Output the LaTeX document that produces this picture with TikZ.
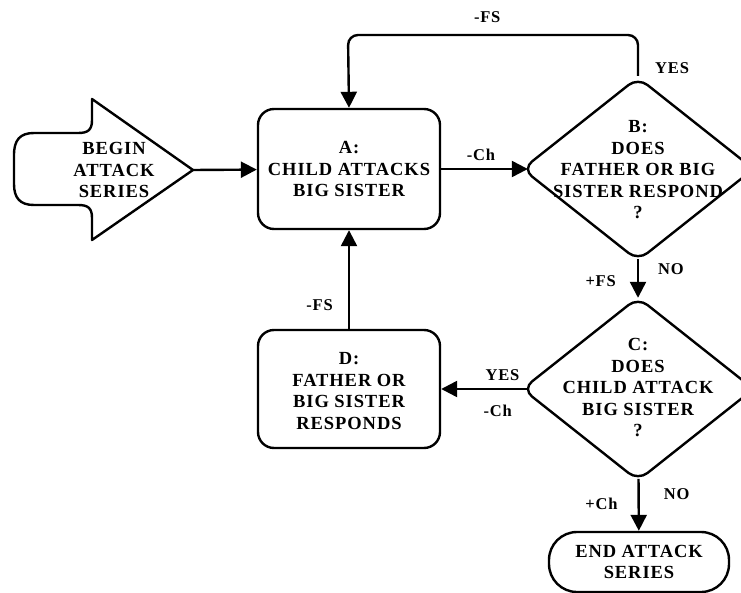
\documentclass[tikz,border=0pt]{standalone}
\usepackage{fontspec}
\usepackage{tikz}
\usetikzlibrary{positioning}
\usetikzlibrary{arrows.meta}
\usetikzlibrary{shapes.geometric}
\newfontfamily\flowfont{Liberation Serif}[LetterSpace=5]
\tikzset {
  x=1pt, y=-1pt,
  % text inside the boxes
  txt/.style={font=\flowfont\bfseries\fontsize{18.5}{21.5}\selectfont, align=center, inner sep=0pt},
  % labels next to the arrows
  lbl/.style={font=\flowfont\bfseries\fontsize{16.5}{18}\selectfont, inner sep=0pt},
  % process boxes
  proc/.style={draw, line width=2.4pt, rounded corners=16pt, minimum width=182pt, minimum height=120pt},
  % questions
  decision/.style={draw, diamond, line width=2.4pt, rounded corners=12pt, inner sep=0pt,
                   minimum width=232pt, minimum height=184pt},
  % start and end
  term/.style={draw, line width=2.4pt, rounded corners=28pt, minimum width=180pt, minimum height=60pt},
  flow/.style={-{Triangle[length=16pt, width=16pt]}, line width=2.4pt},
}

\begin{document}
\begin{tikzpicture}
        \useasboundingbox (0,0) rectangle (741,593);

        % start shape
        \draw[line width=2.4pt, line join=round] (92,99) -- (92,120)
            .. controls (92,130) and (88,133) .. (78,133) -- (34,133)
            .. controls (20,133) and (14,140) .. (14,155) -- (14,184)
            .. controls (14,198) and (20,205) .. (34,205) -- (78,205)
            .. controls (88,205) and (92,208) .. (92,218) -- (92,240)
            -- (193,170) -- cycle;
        \node[txt] (begin) at (114,170) {BEGIN\\ATTACK\\SERIES};
        \coordinate (begintip) at (193,170);

        \node[proc] (A) at (349,169) {};
        \node[txt] (Atext) at (A) {A:\\CHILD ATTACKS\\BIG SISTER};

        \node[proc, minimum height=118pt] (D) at (349,389) {};
        \node[txt] (Dtext) at (349,391) {D:\\FATHER OR\\BIG SISTER\\RESPONDS};

        \node[decision] (B) at (638,169) {};
        \node[txt] (Btext) at (638,170) {B:\\DOES\\FATHER OR BIG\\SISTER RESPOND\\?};

        \node[decision] (C) at (638,389) {};
        \node[txt] (Ctext) at (638,388) {C:\\DOES\\CHILD ATTACK\\BIG SISTER\\?};

        \node[term, txt] (E) at (639,562) {END ATTACK\\SERIES};

        \coordinate (loopR) at (638,35);
        \coordinate (loopL) at (348,35);

        \draw [flow] (begintip) to (A);

        \draw [flow, shorten >=-7pt] (A) to node[lbl, above=7pt] {-Ch} (B);

        \draw [flow, rounded corners=10pt] (B.north) -- (loopR)
            -- node[lbl, above=11pt, pos=0.52] {-FS} (loopL) -- (A.north);
        \node[lbl, anchor=west] (yesB) at (655,68) {YES};

        \draw [flow, shorten <=-3pt, shorten >=-2pt] (B) to node[lbl, pos=0.2, right=19pt] {NO}
            node[lbl, pos=0.55, left=21pt] {+FS} (C);

        \draw [flow, shorten <=-7pt] (C) to node[lbl, above=7pt, pos=0.23] {YES}
            node[lbl, below=15pt, pos=0.29] {-Ch} (D);

        \draw [flow] (D) to node[lbl, left=15pt, pos=0.24] {-FS} (A);

        \draw [flow, shorten <=-3pt] (C) to node[lbl, pos=0.25, right=24pt] {NO}
            node[lbl, pos=0.45, left=20pt] {+Ch} (E);
      \end{tikzpicture}
\end{document}
